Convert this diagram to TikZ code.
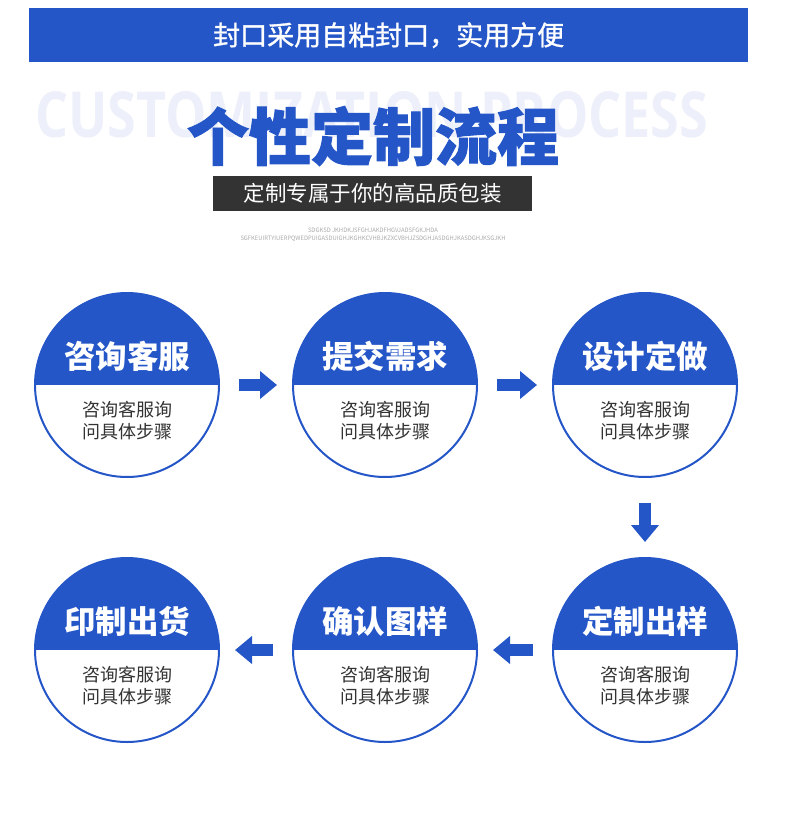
\documentclass[tikz,border=0pt]{standalone}
\usepackage{fontspec}
\setmainfont{Noto Sans CJK SC}
\newfontfamily\latinb{Open Sans}
\usetikzlibrary{arrows.meta}
\definecolor{mblue}{RGB}{36,86,200}
\definecolor{ghost}{RGB}{237,240,250}
\definecolor{darkbox}{RGB}{51,51,51}
\definecolor{subtext}{RGB}{51,51,51}
\definecolor{tinygray}{RGB}{170,170,170}
\tikzset{
  stepcircle/.style={circle, minimum size=184pt, inner sep=0pt, draw=mblue, line width=2pt, fill=white,
    path picture={\fill[mblue] (path picture bounding box.north west) rectangle (path picture bounding box.east);}},
  steptitle/.style={text=white, font=\bfseries\fontsize{31.5}{33}\selectfont, inner sep=0pt},
  stepdesc/.style={text=subtext, font=\fontsize{18}{22}\selectfont, align=center, inner sep=0pt},
  blockarrow/.style={draw=mblue, line width=12pt, -{Triangle[length=17pt,width=27pt]}, mblue}
}
\begin{document}
\begin{tikzpicture}[x=1pt,y=-1pt]
\useasboundingbox (0,0) rectangle (790,821);
\fill[white] (0,0) rectangle (790,821);
% banner
\node[fill=mblue, minimum width=719pt, minimum height=54pt, inner sep=0pt, anchor=north west] (banner) at (29,8) {};
\node[text=white, font=\fontsize{27}{29}\selectfont\addfontfeatures{FakeBold=1.2}] (bannertext) at (banner.center) {封口采用自粘封口，实用方便};
% ghost text
\node[text=ghost, inner sep=0pt, anchor=base west] (ghosttext) at (35,138) {\resizebox{673pt}{46pt}{\latinb\bfseries CUSTOMIZATION PROCESS}};
% title
\node[text=mblue, font=\bfseries\fontsize{62}{64}\selectfont\addfontfeatures{FakeBold=1.5}, inner sep=0pt] (title) at (373,136) {个性定制流程};
% dark box
\node[fill=darkbox, minimum width=319pt, minimum height=35pt, inner sep=0pt, anchor=north west] (subbox) at (213,176) {};
\node[text=white, font=\fontsize{21.5}{24}\selectfont] (subboxtext) at (subbox.center) {定制专属于你的高品质包装};
% tiny text
\node[text=tinygray, inner sep=0pt] (tiny1) at (373,230) {\resizebox{130pt}{4.5pt}{SDGKSD JKHDKJSFGHJAKDFHGVJADSFGKJHDA}};
\node[text=tinygray, inner sep=0pt] (tiny2) at (373,238.5) {\resizebox{265pt}{4.5pt}{SGFKEUIRTYIUERPQWEDPUIGASDUIGHJKGHKCVHBJKZXCVBHJZSDGHJASDGHJKASDGHJKSGJKH}};
% circles
\node[stepcircle] (c1) at (127,385) {};
\node[stepcircle] (c2) at (385,385) {};
\node[stepcircle] (c3) at (645,385) {};
\node[stepcircle] (c4) at (127,650) {};
\node[stepcircle] (c5) at (385,650) {};
\node[stepcircle] (c6) at (645,650) {};
% titles
\node[steptitle] (t1) at (127,356) {咨询客服};
\node[steptitle] (t2) at (385,356) {提交需求};
\node[steptitle] (t3) at (645,356) {设计定做};
\node[steptitle] (t4) at (127,621) {印制出货};
\node[steptitle] (t5) at (385,621) {确认图样};
\node[steptitle] (t6) at (645,621) {定制出样};
% descriptions
\foreach \n/\x/\y in {d1/127/421,d2/385/421,d3/645/421,d4/127/686,d5/385/686,d6/645/686}
  \node[stepdesc] (\n) at (\x,\y) {咨询客服询\\问具体步骤};
% arrows
\draw[blockarrow, shorten <=19pt, shorten >=15pt] (c1) -- (c2);
\draw[blockarrow, shorten <=19pt, shorten >=15pt] (c2) -- (c3);
\draw[blockarrow, shorten <=25pt, shorten >=15pt] (c3) -- (c6);
\draw[blockarrow, shorten <=19pt, shorten >=15pt] (c6) -- (c5);
\draw[blockarrow, shorten <=19pt, shorten >=15pt] (c5) -- (c4);
\end{tikzpicture}
\end{document}
